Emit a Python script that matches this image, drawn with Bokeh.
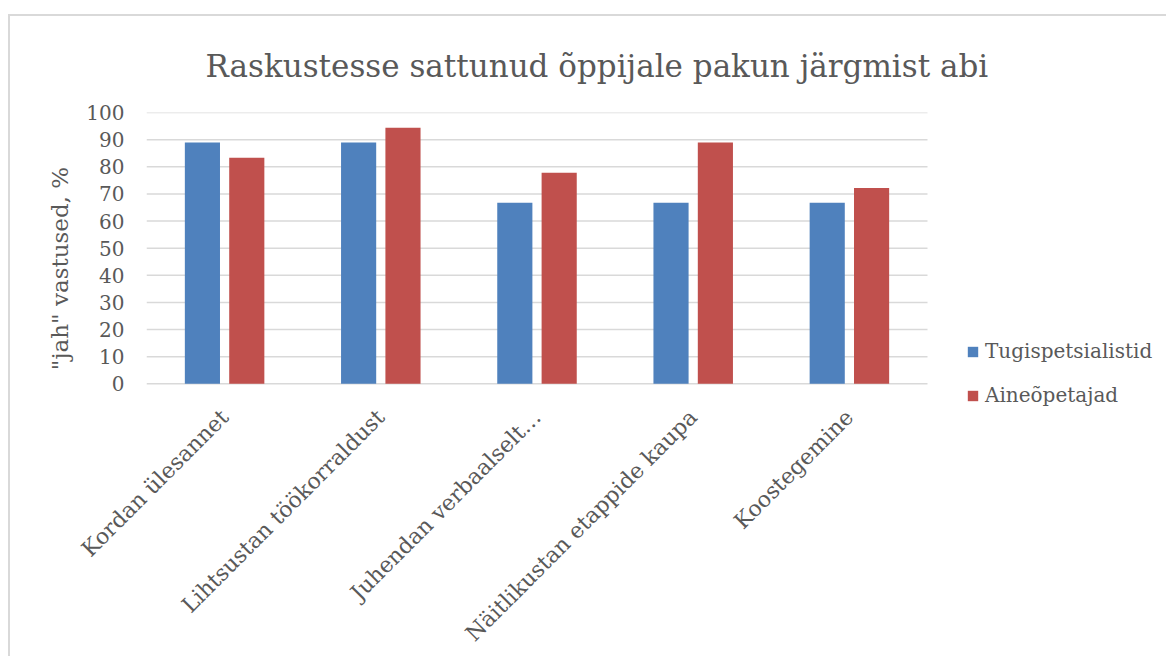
from bokeh.plotting import figure
from bokeh.models import ColumnDataSource, Legend, LegendItem, Range1d, FixedTicker
from bokeh.transform import dodge
from bokeh.embed import file_html
from bokeh.resources import INLINE
import math

categories = ["Kordan ülesannet", "Lihtsustan töökorraldust", "Juhendan verbaalselt…",
              "Näitlikustan etappide kaupa", "Koostegemine"]
tugispetsialistid = [88.9, 88.9, 66.7, 66.7, 66.7]
aineopetajad = [83.3, 94.4, 77.8, 88.9, 72.2]
series_names = ["Tugispetsialistid", "Aineõpetajad"]
y_ticks = list(range(0, 101, 10))

FONT = "DejaVu Serif"
TXT = "#595959"
GRID = "#d9d9d9"

W, H = 1158, 642
LEFT, TOP, BOTTOM = 136, 96, 234
CAT_PX = 156.2

n = len(categories)
xpos = [i + 0.5 for i in range(n)]
src = ColumnDataSource(dict(x=xpos, a=tugispetsialistid, b=aineopetajad))

p = figure(x_range=Range1d(0, (W - LEFT) / CAT_PX), y_range=Range1d(-15, 100),
           width=W, height=H, output_backend="svg", toolbar_location=None,
           min_border_left=LEFT, min_border_right=0, min_border_top=TOP,
           min_border_bottom=BOTTOM)
p.styles = {"margin-left": "8px", "margin-top": "14px",
            "border-left": "2px solid #d9d9d9", "border-top": "2px solid #d9d9d9"}
p.outline_line_color = None
p.background_fill_color = "white"
p.border_fill_color = "white"
p.xgrid.grid_line_color = None
p.ygrid.grid_line_color = None

# horizontal gridlines across the category area only
p.segment(x0=[0] * len(y_ticks), x1=[n] * len(y_ticks), y0=y_ticks, y1=y_ticks,
          line_color=GRID, line_width=1.5)

r1 = p.vbar(x=dodge("x", -0.142), top="a", width=0.225, source=src,
            fill_color="#4F81BD", line_color=None)
r2 = p.vbar(x=dodge("x", 0.142), top="b", width=0.225, source=src,
            fill_color="#C0504D", line_color=None)

p.title.text = "Raskustesse sattunud õppijale pakun järgmist abi"
p.title.text_font = FONT
p.title.text_font_size = "31px"
p.title.text_font_style = "normal"
p.title.text_color = TXT
p.title.align = "left"
p.title.offset = 59
p.title.standoff = 58

p.yaxis.ticker = FixedTicker(ticks=y_ticks)
p.yaxis.axis_line_color = None
p.yaxis.major_tick_line_color = None
p.yaxis.minor_tick_line_color = None
p.yaxis.major_label_text_font = FONT
p.yaxis.major_label_text_font_size = "20px"
p.yaxis.major_label_text_color = TXT
p.yaxis.major_label_standoff = 16
p.yaxis.axis_label = '"jah" vastused, %'
p.yaxis.axis_label_text_font = FONT
p.yaxis.axis_label_text_font_size = "23px"
p.yaxis.axis_label_text_font_style = "normal"
p.yaxis.axis_label_text_color = TXT
p.yaxis.axis_label_standoff = 10

p.xaxis.ticker = FixedTicker(ticks=xpos)
p.xaxis.major_label_overrides = {x: c for x, c in zip(xpos, categories)}
p.xaxis.axis_line_color = None
p.xaxis.major_tick_line_color = None
p.xaxis.minor_tick_line_color = None
p.xaxis.major_label_orientation = math.pi / 4
p.xaxis.major_label_text_font = FONT
p.xaxis.major_label_text_font_size = "22px"
p.xaxis.major_label_text_color = TXT
p.xaxis.major_label_standoff = -17

legend = Legend(items=[LegendItem(label=series_names[0], renderers=[r1]),
                       LegendItem(label=series_names[1], renderers=[r2])],
                location=(820, 17), orientation="vertical")
legend.label_text_font = FONT
legend.label_text_font_size = "20px"
legend.label_text_color = TXT
legend.glyph_width = 13
legend.glyph_height = 13
legend.label_standoff = 6
legend.spacing = 20
legend.padding = 0
legend.margin = 0
legend.border_line_color = None
legend.background_fill_alpha = 0
p.add_layout(legend)

open("out.html", "w").write(file_html(p, INLINE))
